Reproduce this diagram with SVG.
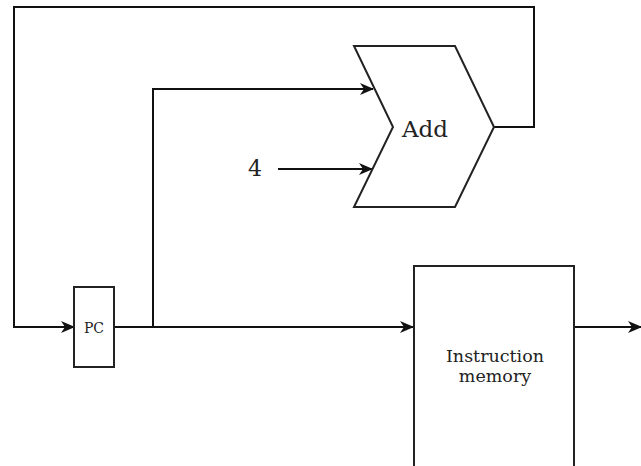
<svg xmlns="http://www.w3.org/2000/svg" width="641" height="466" viewBox="0 0 641 466">
  <defs>
    <marker id="arr" viewBox="0 0 14 12" refX="13" refY="6" markerWidth="14" markerHeight="12" markerUnits="userSpaceOnUse" orient="auto">
      <path d="M0,0 L14,6 L0,12 L4,6 z" fill="#111"/>
    </marker>
    <style>
      .shape { fill: #fff; stroke: #222; stroke-width: 2; }
      .wire { fill: none; stroke: #111; stroke-width: 2; }
      .lbl { font-family: "DejaVu Serif", serif; fill: #222; text-anchor: middle; }
    </style>
  </defs>
  <rect width="641" height="466" fill="#fff"/>
  <g id="connectors">
    <path class="wire" d="M494,127 H534 V7 H14 V327 H74" marker-end="url(#arr)"/>
    <path class="wire" d="M114,327 H413" marker-end="url(#arr)"/>
    <path class="wire" d="M153,327 V89 H373" marker-end="url(#arr)"/>
    <path class="wire" d="M278,169 H372" marker-end="url(#arr)"/>
    <path class="wire" d="M574,327 H641" marker-end="url(#arr)"/>
  </g>
  <g id="add">
    <path class="shape" d="M354,46 H455 L494,127 L455,207 H354 L393,127 z"/>
    <text class="lbl" x="425" y="137" font-size="23">Add</text>
  </g>
  <g id="const4">
    <text class="lbl" x="255" y="176" font-size="22">4</text>
  </g>
  <g id="pc">
    <rect class="shape" x="74" y="287" width="40" height="80"/>
    <text class="lbl" x="94" y="333" font-size="14" fill="#444">PC</text>
  </g>
  <g id="imem">
    <rect class="shape" x="414" y="266" width="160" height="210"/>
    <text class="lbl" x="495" y="362" font-size="17.5" fill="#333">Instruction</text>
    <text class="lbl" x="495" y="382" font-size="17.5" fill="#333">memory</text>
  </g>
</svg>
